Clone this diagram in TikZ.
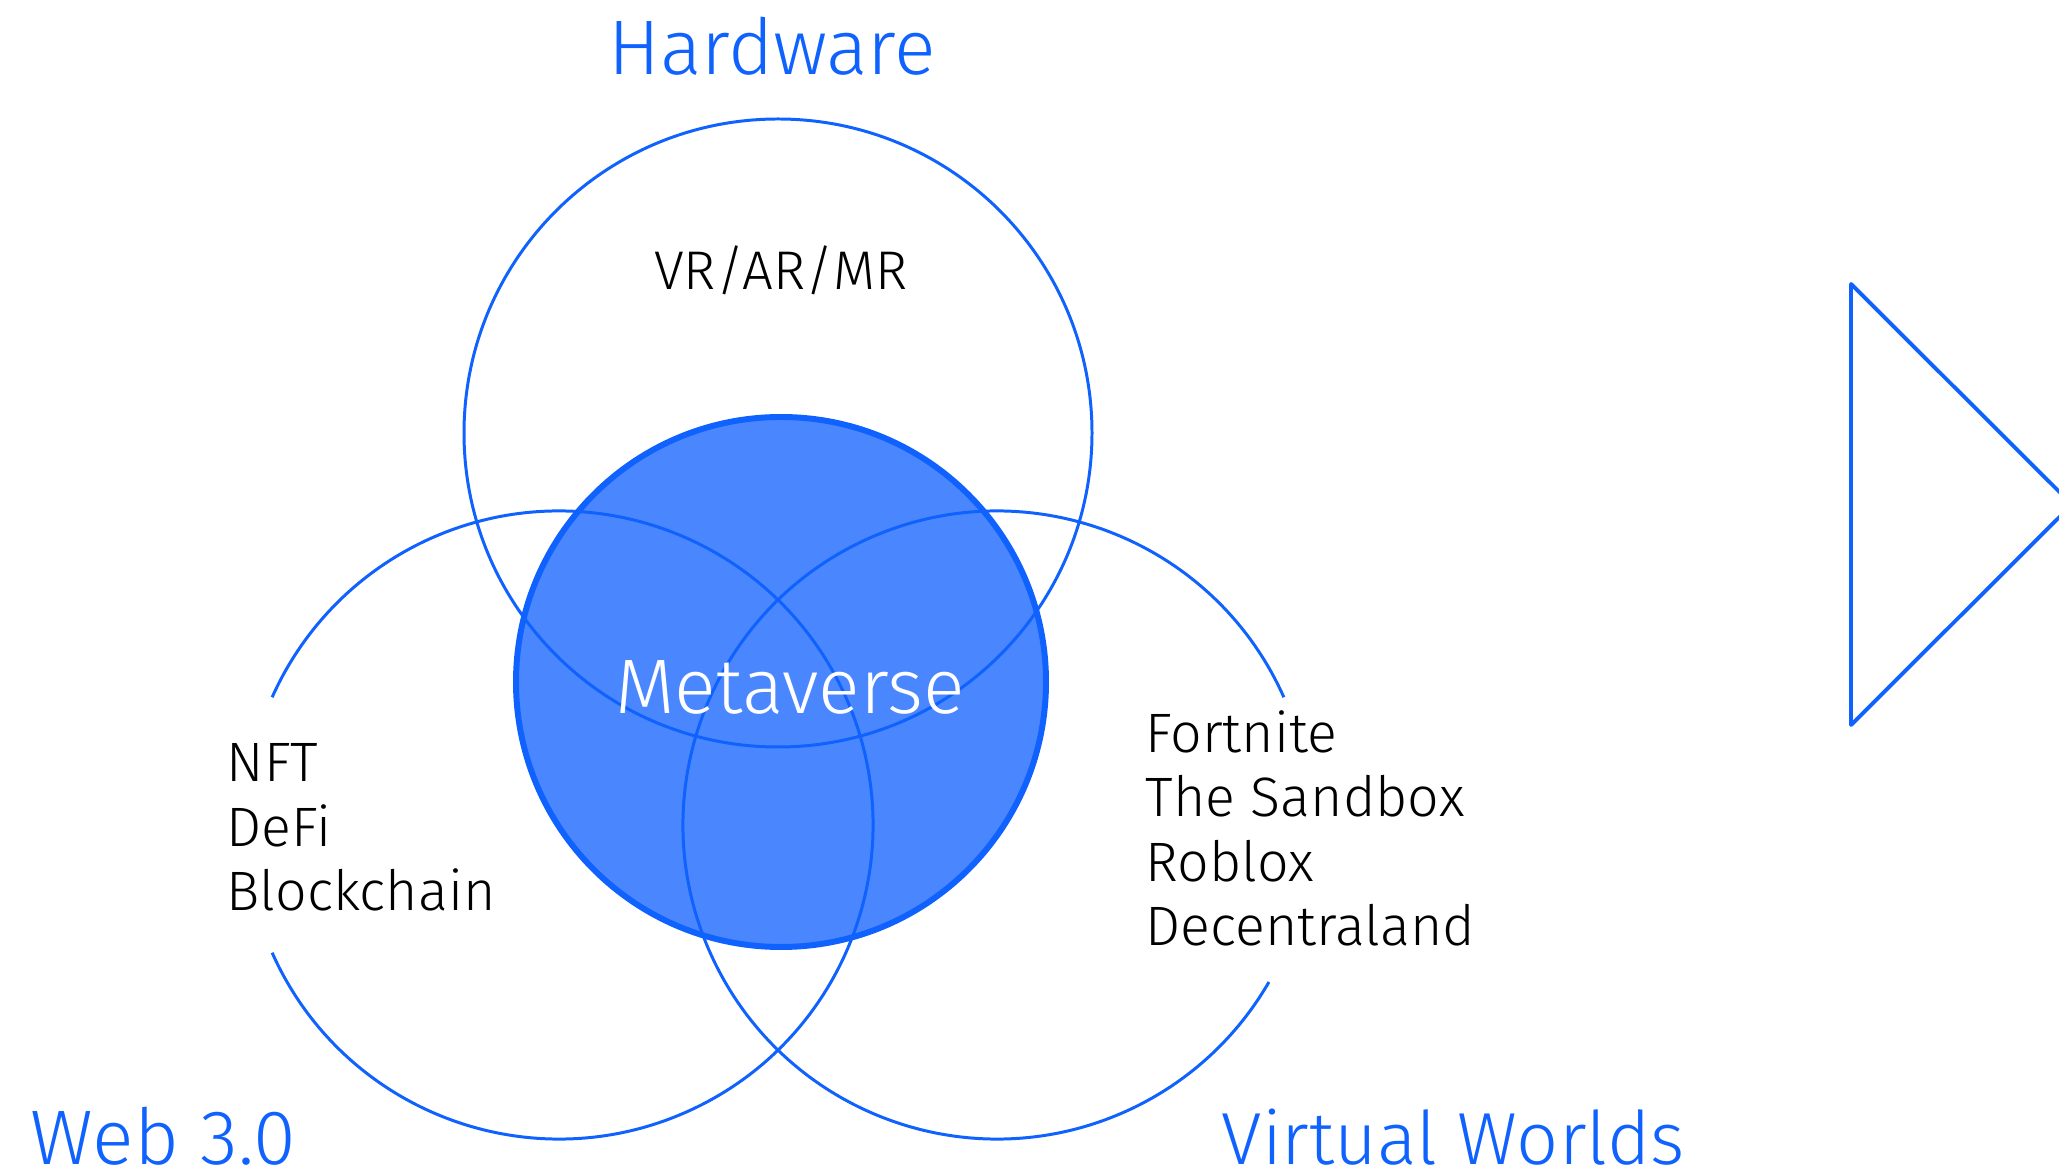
\documentclass[tikz,border=0pt]{standalone}
\usepackage{fontspec}
\setmainfont{Fira Sans}[UprightFont=* Light]
\usetikzlibrary{calc}
\usetikzlibrary{positioning}
\definecolor{ibmblue}{HTML}{0F62FE}
\definecolor{metafill}{HTML}{4A87FF}

\begin{document}
\begin{tikzpicture} [x=.1mm, y=.1mm]
\tikzset{
 ring/.style={ibmblue, line width=.85pt},
 title/.style={text=ibmblue, inner sep=0, font=\fontsize{22}{26}\selectfont},
 items/.style={inner sep=0, anchor=north west, align=left, font=\fontsize{15.8}{18.3}\selectfont},
}
\useasboundingbox (0,0) rectangle (2059,-1172);
\coordinate (hw) at (778,-433);
\coordinate (web) at (559,-825);
\coordinate (vw) at (997,-825);
\coordinate (meta) at (781,-682);
\fill[metafill] (meta) circle (265);
\draw[ring] (hw) circle (314);
\draw[ring] ($(web)+(204:314)$) arc (204:516:314);
\draw[ring] ($(vw)+(24:314)$) arc (24:330:314);
\draw[ibmblue, line width=1.7pt] (meta) circle (265);
% labels
\node[title, anchor=base] (hwtitle) at (772,-75) {Hardware};
\node[title, anchor=base west] (webtitle) at (30,-1164) {Web 3.0};
\node[title, anchor=base west, font=\fontsize{21}{25}\selectfont] (vwtitle) at (1221,-1164) {Virtual Worlds};
\node[inner sep=0, anchor=base, font=\fontsize{15.5}{18.3}\selectfont] (hwitems) at (781,-290) {VR/AR/MR};
\node[items] (webitems) at (226,-743) {NFT\\DeFi\\Blockchain};
\node[items] (vwitems) at (1145,-710) {Fortnite\\The Sandbox\\Roblox\\Decentraland};
\node[inner sep=0, anchor=base, text=white, font=\fontsize{22}{26}\selectfont] (metaname) at (790,-714) {Metaverse};
\draw[ibmblue, line width=1.1pt, line join=round] (1851,-284) -- (2072,-504.5) -- (1851,-725) -- cycle;
\end{tikzpicture}
\end{document}
